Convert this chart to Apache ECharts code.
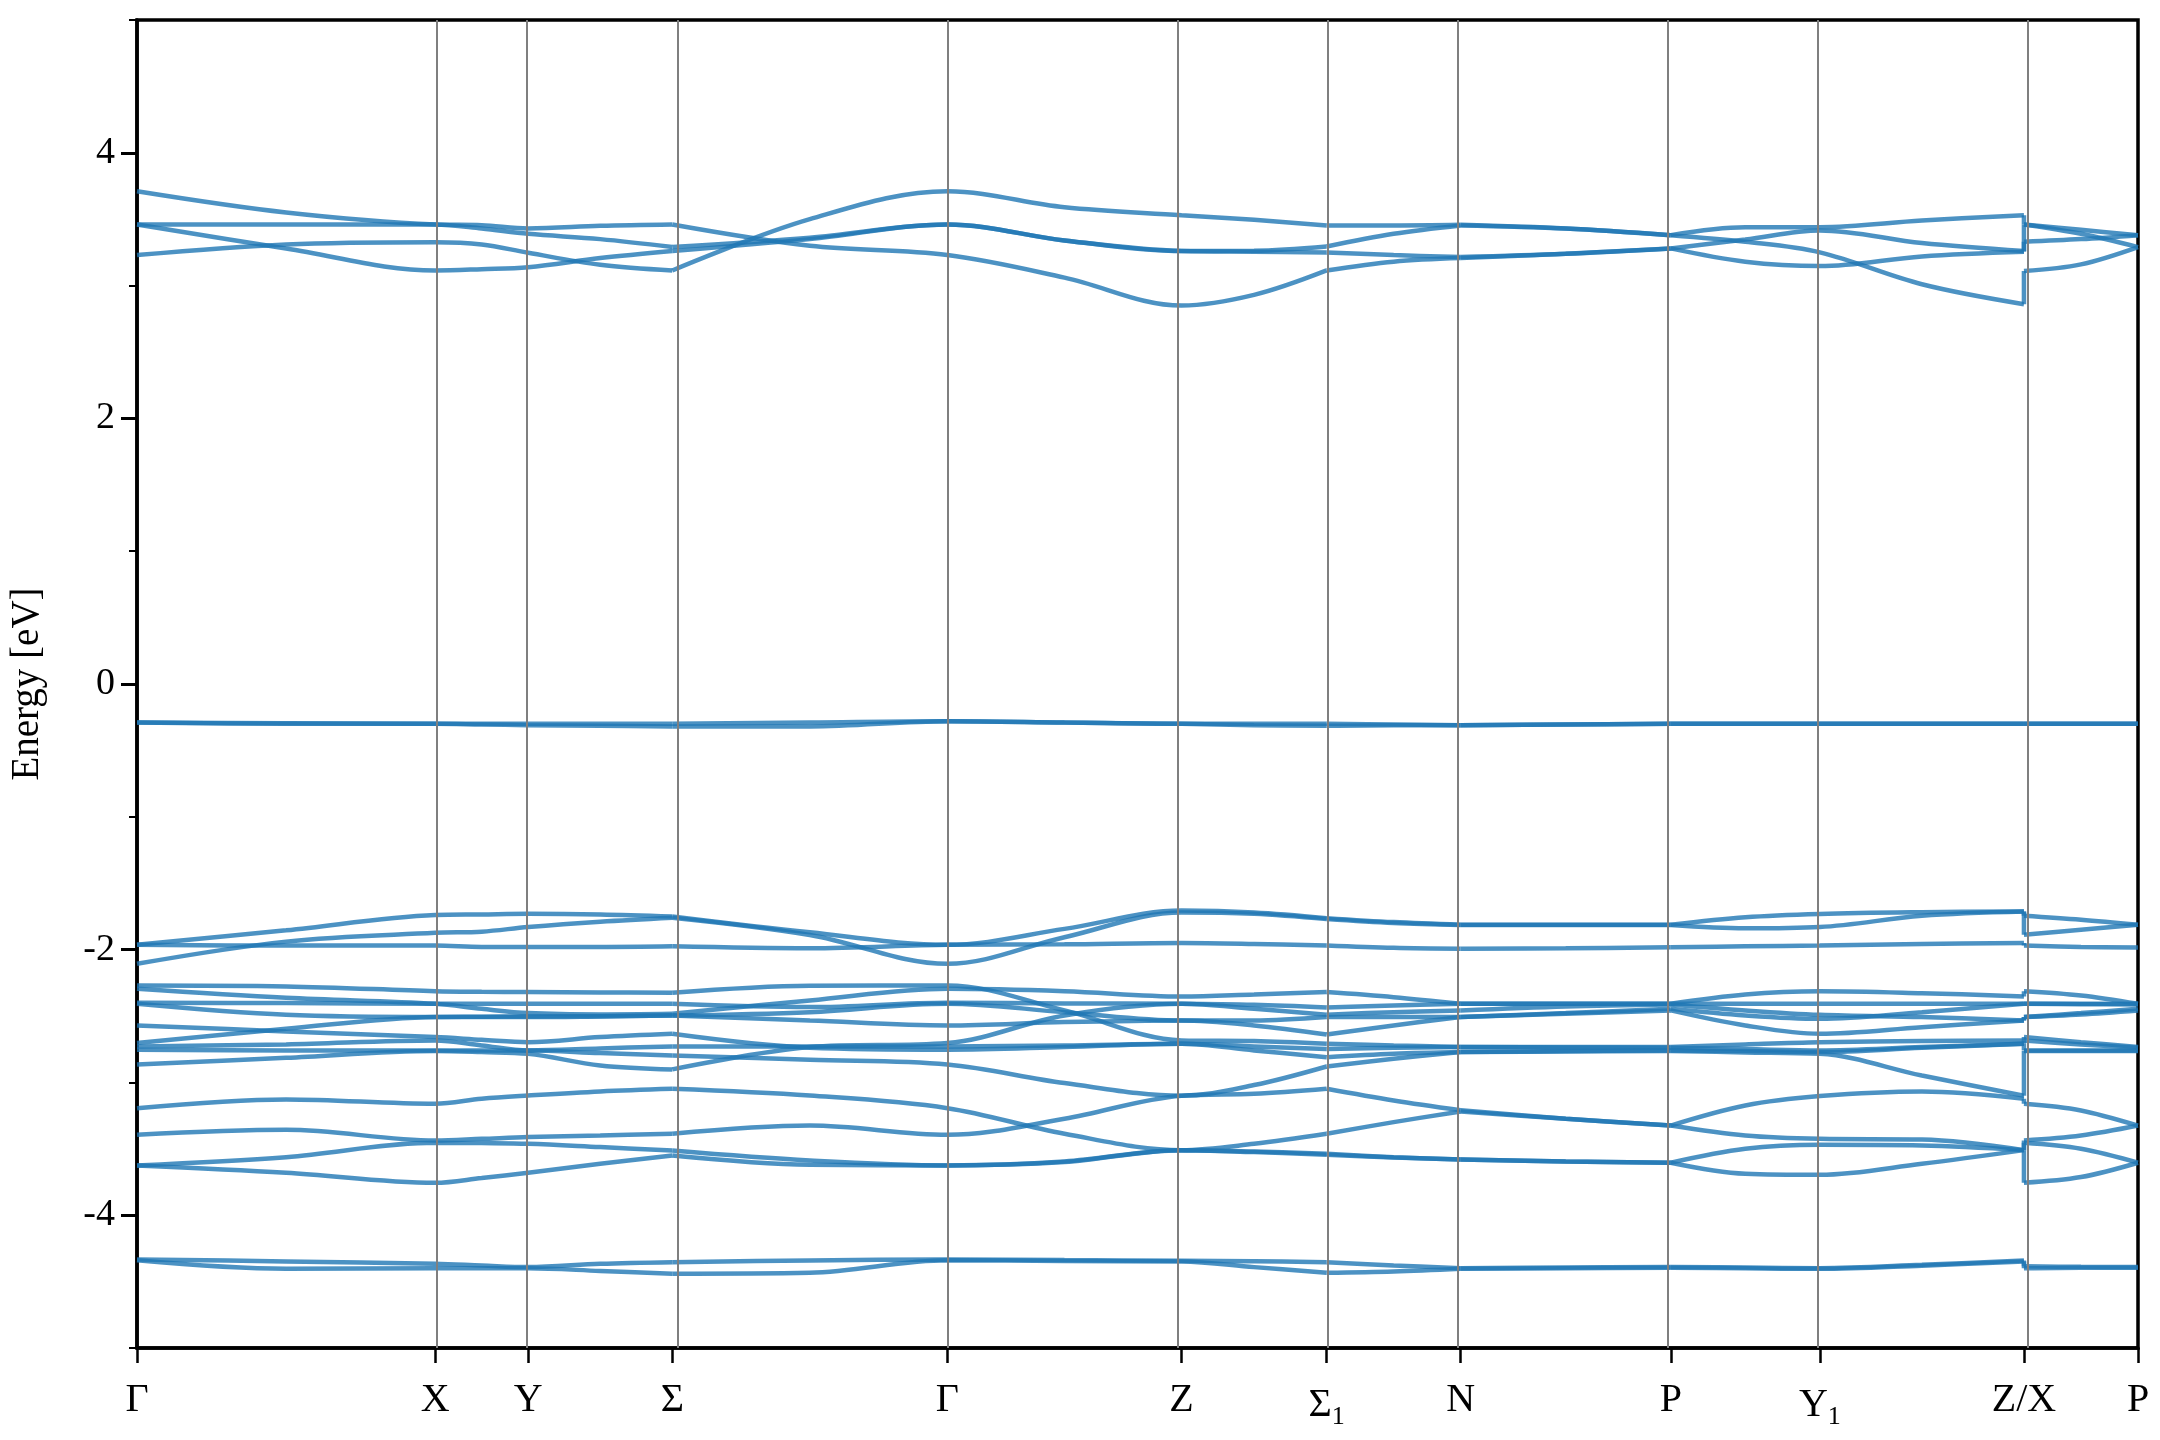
<!DOCTYPE html>
<html><head><meta charset="utf-8">
<script src="https://cdn.jsdelivr.net/npm/echarts@6/dist/echarts.min.js"></script>
<style>html,body{margin:0;padding:0;background:#fff}#c{width:2160px;height:1440px}</style>
</head><body><div id="c"></div>
<script>
// k-path positions: nodes and segment midpoints (Z and X share one position)
const kGrid = [0, 0.149, 0.298, 0.3445, 0.391, 0.463, 0.535, 0.6725, 0.810, 0.927, 1.044, 1.1165, 1.189, 1.256, 1.323, 1.428, 1.533, 1.6075, 1.682, 1.784, 1.886, 1.886, 1.943, 2.000];
const kNodes = [0, 0.298, 0.391, 0.535, 0.810, 1.044, 1.189, 1.323, 1.533, 1.682, 1.886, 2.000];
const kLabels = ['Γ', 'X', 'Y', 'Σ', 'Γ', 'Z', 'Σ{s|1}', 'N', 'P', 'Y{s|1}', 'Z/X', 'P'];
const yMajor = [-4, -2, 0, 2, 4];
const yMinor = [-5, -3, -1, 1, 3, 5];
// index ranges of kGrid drawn as one smooth piece (kinks at Σ, Σ1, N, P; Z|X discontinuity)
const pieces = [[0, 6], [6, 12], [12, 14], [14, 16], [16, 20], [21, 23]];
const jumpPair = [20, 21];

// conduction bands
const bandU1 = [3.71, 3.55, 3.46, 3.455, 3.43, 3.45, 3.46, 3.30, 3.23, 3.06, 2.85, 2.93, 3.114, 3.18, 3.207, 3.24, 3.28, 3.18, 3.147, 3.22, 3.255, 3.33, 3.35, 3.38];
const bandU2 = [3.46, 3.46, 3.46, 3.43, 3.39, 3.35, 3.29, 3.36, 3.46, 3.34, 3.26, 3.262, 3.294, 3.39, 3.453, 3.43, 3.38, 3.33, 3.25, 3.01, 2.86, 3.11, 3.16, 3.29];
const bandU3 = [3.46, 3.28, 3.114, 3.124, 3.139, 3.207, 3.26, 3.35, 3.46, 3.34, 3.26, 3.255, 3.25, 3.23, 3.215, 3.24, 3.28, 3.347, 3.415, 3.32, 3.26, 3.46, 3.39, 3.29];
const bandU4 = [3.23, 3.31, 3.327, 3.31, 3.247, 3.157, 3.114, 3.50, 3.71, 3.59, 3.53, 3.495, 3.453, 3.453, 3.458, 3.43, 3.38, 3.44, 3.44, 3.49, 3.53, 3.46, 3.42, 3.38];
// flat band near -0.3
const bandF1 = [-0.29, -0.295, -0.30, -0.30, -0.30, -0.30, -0.30, -0.29, -0.28, -0.29, -0.30, -0.30, -0.30, -0.305, -0.31, -0.305, -0.30, -0.30, -0.30, -0.30, -0.30, -0.30, -0.30, -0.30];
const bandF2 = [-0.29, -0.30, -0.30, -0.305, -0.31, -0.315, -0.32, -0.32, -0.28, -0.29, -0.30, -0.31, -0.315, -0.31, -0.31, -0.305, -0.30, -0.30, -0.30, -0.30, -0.30, -0.30, -0.30, -0.30];
// group near -2
const bandG1 = [-1.964, -1.855, -1.74, -1.735, -1.73, -1.735, -1.75, -1.87, -1.964, -1.844, -1.706, -1.72, -1.763, -1.793, -1.813, -1.813, -1.813, -1.756, -1.731, -1.718, -1.713, -1.745, -1.775, -1.813];
const bandG2 = [-2.107, -1.94, -1.874, -1.865, -1.83, -1.79, -1.76, -1.89, -2.107, -1.907, -1.72, -1.73, -1.77, -1.80, -1.815, -1.815, -1.815, -1.84, -1.83, -1.745, -1.713, -1.889, -1.85, -1.813];
const bandG3 = [-1.964, -1.97, -1.97, -1.98, -1.98, -1.98, -1.975, -1.99, -1.964, -1.96, -1.95, -1.957, -1.969, -1.987, -1.994, -1.99, -1.982, -1.975, -1.969, -1.957, -1.95, -1.97, -1.98, -1.985];
// dense group -2.2 .. -3.1
const bandD1 = [-2.270, -2.277, -2.313, -2.318, -2.320, -2.323, -2.325, -2.272, -2.270, -2.458, -2.684, -2.689, -2.709, -2.722, -2.734, -2.734, -2.734, -2.714, -2.697, -2.689, -2.684, -2.659, -2.697, -2.734];
const bandD2 = [-2.295, -2.363, -2.408, -2.446, -2.478, -2.488, -2.483, -2.383, -2.295, -2.313, -2.353, -2.338, -2.320, -2.358, -2.408, -2.408, -2.408, -2.338, -2.313, -2.328, -2.353, -2.313, -2.345, -2.408];
const bandD3 = [-2.400, -2.403, -2.408, -2.408, -2.408, -2.408, -2.408, -2.433, -2.400, -2.405, -2.408, -2.416, -2.436, -2.421, -2.408, -2.408, -2.408, -2.408, -2.408, -2.408, -2.408, -2.408, -2.408, -2.408];
const bandD4 = [-2.408, -2.491, -2.508, -2.508, -2.508, -2.503, -2.496, -2.471, -2.408, -2.471, -2.534, -2.534, -2.508, -2.508, -2.508, -2.478, -2.446, -2.496, -2.521, -2.471, -2.408, -2.408, -2.411, -2.413];
const bandD5 = [-2.571, -2.616, -2.659, -2.679, -2.697, -2.659, -2.634, -2.739, -2.754, -2.734, -2.709, -2.759, -2.810, -2.785, -2.772, -2.764, -2.759, -2.764, -2.772, -2.739, -2.709, -2.759, -2.759, -2.759];
const bandD6 = [-2.704, -2.596, -2.508, -2.506, -2.503, -2.501, -2.496, -2.534, -2.571, -2.546, -2.534, -2.571, -2.639, -2.571, -2.508, -2.483, -2.458, -2.571, -2.634, -2.584, -2.534, -2.508, -2.488, -2.458];
const bandD7 = [-2.729, -2.714, -2.684, -2.722, -2.759, -2.744, -2.729, -2.729, -2.729, -2.722, -2.709, -2.729, -2.749, -2.739, -2.734, -2.737, -2.739, -2.749, -2.759, -2.734, -2.709, -2.684, -2.714, -2.739];
const bandD8 = [-2.754, -2.759, -2.759, -2.759, -2.759, -2.779, -2.797, -2.830, -2.865, -3.005, -3.10, -3.02, -2.880, -2.822, -2.772, -2.767, -2.764, -2.774, -2.785, -2.948, -3.10, -2.764, -2.764, -2.764];
const bandD9 = [-2.865, -2.815, -2.764, -2.772, -2.785, -2.872, -2.902, -2.734, -2.704, -2.496, -2.408, -2.446, -2.491, -2.471, -2.458, -2.428, -2.413, -2.458, -2.491, -2.508, -2.534, -2.508, -2.478, -2.446];
// group near -3.5
const bandP1 = [-3.194, -3.128, -3.161, -3.123, -3.099, -3.068, -3.048, -3.099, -3.194, -3.387, -3.51, -3.462, -3.387, -3.299, -3.219, -3.274, -3.325, -3.40, -3.425, -3.43, -3.51, -3.437, -3.40, -3.325];
const bandP2 = [-3.395, -3.357, -3.437, -3.425, -3.412, -3.40, -3.387, -3.325, -3.395, -3.274, -3.10, -3.086, -3.048, -3.136, -3.21, -3.274, -3.325, -3.174, -3.103, -3.068, -3.123, -3.161, -3.211, -3.325];
const bandP3 = [-3.625, -3.563, -3.455, -3.457, -3.462, -3.487, -3.513, -3.588, -3.625, -3.595, -3.51, -3.52, -3.537, -3.563, -3.58, -3.595, -3.605, -3.50, -3.47, -3.475, -3.51, -3.455, -3.50, -3.605];
const bandP4 = [-3.625, -3.68, -3.756, -3.72, -3.68, -3.613, -3.55, -3.62, -3.625, -3.60, -3.51, -3.525, -3.545, -3.565, -3.58, -3.595, -3.605, -3.688, -3.696, -3.613, -3.51, -3.756, -3.713, -3.605];
// group near -4.4
const bandL1 = [-4.333, -4.348, -4.366, -4.379, -4.391, -4.366, -4.354, -4.341, -4.333, -4.338, -4.343, -4.346, -4.354, -4.379, -4.399, -4.394, -4.391, -4.394, -4.399, -4.374, -4.341, -4.384, -4.389, -4.391];
const bandL2 = [-4.34, -4.404, -4.399, -4.40, -4.40, -4.42, -4.441, -4.434, -4.34, -4.345, -4.348, -4.391, -4.434, -4.424, -4.404, -4.40, -4.395, -4.40, -4.404, -4.38, -4.348, -4.40, -4.395, -4.395];

const bands = [bandU1, bandU2, bandU3, bandU4, bandF1, bandF2, bandG1, bandG2, bandG3,
  bandD1, bandD2, bandD3, bandD4, bandD5, bandD6, bandD7, bandD8, bandD9,
  bandP1, bandP2, bandP3, bandP4, bandL1, bandL2];

const BLUE = 'rgba(31,119,180,0.8)';
const FONT = "'Liberation Serif', 'Times New Roman', serif";

function lineSeries(data, smooth) {
  return {
    type: 'line', data: data, smooth: smooth ? 0.35 : false,
    symbol: 'none', showSymbol: false, silent: true, animation: false,
    emphasis: { disabled: true },
    lineStyle: { color: BLUE, width: 4.5 }, z: 3
  };
}

const series = [];
bands.forEach(vals => {
  const pts = kGrid.map((k, i) => [k, vals[i]]);
  pieces.forEach(([s, e]) => {
    series.push(lineSeries(pts.slice(s, e + 1).filter(p => p[1] !== null), true));
  });
  series.push(lineSeries([pts[jumpPair[0]], pts[jumpPair[1]]], false));
});
series.push({
  type: 'line', data: [], silent: true, animation: false, z: 2,
  markLine: {
    silent: true, symbol: ['none', 'none'], animation: false,
    label: { show: false },
    lineStyle: { color: '#7f7f7f', width: 2, type: 'solid' },
    emphasis: { disabled: true },
    data: kNodes.slice(1, -1).map(k => ({ xAxis: k }))
  }
});

function labelFor(v) {
  const i = kNodes.findIndex(k => Math.abs(k - v) < 1e-6);
  return i >= 0 ? kLabels[i] : '';
}

const chart = echarts.init(document.getElementById('c'), null, { renderer: 'canvas' });
chart.setOption({
  backgroundColor: '#ffffff',
  animation: false,
  grid: { left: 136, right: 22, top: 20, bottom: 92, show: true, borderColor: '#000', borderWidth: 3.5, backgroundColor: 'transparent' },
  xAxis: {
    type: 'value', min: 0, max: 2.0,
    axisLine: { show: true, onZero: false, lineStyle: { color: '#000', width: 3.5 } },
    axisTick: { show: true, customValues: kNodes, length: 15, lineStyle: { color: '#000', width: 2.5 } },
    axisLabel: {
      show: true, customValues: kNodes, formatter: labelFor, margin: 32,
      color: '#000', fontFamily: FONT, fontSize: 40,
      rich: { s: { fontFamily: FONT, fontSize: 26, color: '#000', padding: [24, 0, 0, 0] } }
    },
    splitLine: { show: false }
  },
  yAxis: [{
    type: 'value', min: -5, max: 5, interval: 1,
    name: 'Energy [eV]', nameLocation: 'middle', nameGap: 90,
    nameTextStyle: { color: '#000', fontFamily: FONT, fontSize: 39 },
    axisLine: { show: true, onZero: false, lineStyle: { color: '#000', width: 3.5 } },
    axisTick: { show: true, customValues: yMajor, length: 16, lineStyle: { color: '#000', width: 3 } },
    axisLabel: { show: true, customValues: yMajor, margin: 22, color: '#000', fontFamily: FONT, fontSize: 38 },
    splitLine: { show: false }
  }, {
    type: 'value', min: -5, max: 5, interval: 1, position: 'left',
    axisLine: { show: false },
    axisTick: { show: true, customValues: yMinor, length: 8, lineStyle: { color: '#000', width: 2 } },
    axisLabel: { show: false },
    splitLine: { show: false }
  }],
  series: series
});
</script>
</body></html>
